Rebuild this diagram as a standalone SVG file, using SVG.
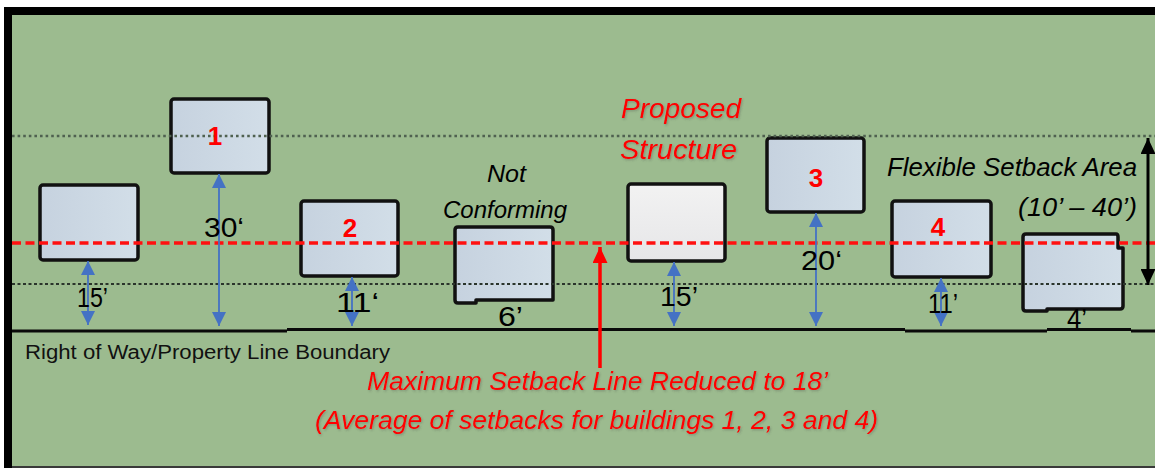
<svg xmlns="http://www.w3.org/2000/svg" width="1155" height="468" viewBox="0 0 1155 468">
<defs>
<linearGradient id="bg" x1="0" y1="0" x2="1" y2="0">
<stop offset="0" stop-color="#C6D2DF"/><stop offset="1" stop-color="#D2DEE8"/>
</linearGradient>
<linearGradient id="pg" x1="0" y1="0" x2="0" y2="1">
<stop offset="0" stop-color="#F2F2F2"/><stop offset="1" stop-color="#E6E6E8"/>
</linearGradient>
<marker id="ab" viewBox="0 0 14 14" markerUnits="userSpaceOnUse" markerWidth="14" markerHeight="14" refX="14" refY="7" orient="auto-start-reverse">
<path d="M0,0 L14,7 L0,14 Z" fill="#4472C4"/>
</marker>
<marker id="ak" viewBox="0 0 16 15" markerUnits="userSpaceOnUse" markerWidth="16" markerHeight="15" refX="16" refY="7.5" orient="auto-start-reverse">
<path d="M0,0 L16,7.5 L0,15 Z" fill="#000"/>
</marker>
<marker id="ar" viewBox="0 0 16 15" markerUnits="userSpaceOnUse" markerWidth="16" markerHeight="15" refX="16" refY="7.5" orient="auto">
<path d="M0,0 L16,7.5 L0,15 Z" fill="#FF0000"/>
</marker>
<filter id="sh" x="-5%" y="-30%" width="110%" height="160%">
<feDropShadow dx="1" dy="1.2" stdDeviation="0.8" flood-color="#444" flood-opacity="0.35"/>
</filter>
</defs>
<style>
.bld{fill:url(#bg);stroke:#111;stroke-width:3.5;stroke-linejoin:round}
.prop{fill:url(#pg);stroke:#111;stroke-width:3.5;stroke-linejoin:round}
.num{font-family:"Liberation Sans",Arial,sans-serif;font-weight:bold;font-size:26px;fill:#FF0000;text-anchor:middle}
.dim{font-family:"Liberation Sans",Arial,sans-serif;font-size:28px;fill:#000}
.lbl{font-family:"Liberation Sans",Arial,sans-serif;font-style:italic;fill:#000}
.red{font-family:"Liberation Sans",Arial,sans-serif;font-style:italic;fill:#FF0000;filter:url(#sh)}
.blue{stroke:#4472C4;stroke-width:1.8;fill:none;marker-start:url(#ab);marker-end:url(#ab)}
</style>
<rect x="0" y="0" width="1155" height="468" fill="#FFFFFF"/>
<rect x="4" y="7" width="1151" height="461" fill="#000"/>
<rect x="12" y="15" width="1143" height="451" fill="#9CBB8F"/>
<rect x="12" y="466" width="1143" height="2" fill="#3A3A3A"/>

<g id="buildings">
<g id="bldg-left"><rect class="bld" x="40" y="185" width="98" height="75" rx="3"/></g>
<g id="bldg-1"><rect class="bld" x="171" y="99" width="98" height="74" rx="3"/></g>
<g id="bldg-2"><rect class="bld" x="301" y="201" width="97" height="75" rx="3"/></g>
<g id="bldg-nc"><path class="bld" d="M458,227 H550 Q553,227 553,230 V300 H476 V303 H458 Q455,303 455,300 V230 Q455,227 458,227 Z"/></g>
<g id="bldg-proposed"><rect class="prop" x="628" y="184" width="97" height="77" rx="3"/></g>
<g id="bldg-3"><rect class="bld" x="767" y="138" width="97" height="74" rx="3"/></g>
<g id="bldg-4"><rect class="bld" x="892" y="201" width="99" height="76" rx="3"/></g>
<g id="bldg-5"><path class="bld" d="M1026,234 H1116 Q1118,234 1118,237 V248 H1123 V306 Q1123,309 1120,309 H1047 V311 H1026 Q1023,311 1023,308 V237 Q1023,234 1026,234 Z"/></g>
</g>

<g id="lines">
<line x1="12" y1="136" x2="1155" y2="136" stroke="#4F6150" stroke-width="2.4" stroke-dasharray="2.6 3"/>
<line x1="12" y1="284" x2="1155" y2="284" stroke="#2A342B" stroke-width="1.8" stroke-dasharray="3 2.5"/>
<line x1="12" y1="243" x2="1155" y2="243" stroke="#FF1010" stroke-width="3.5" stroke-dasharray="9 4.5"/>
<path d="M12,331 H287 M287,329.5 H905 M905,331 H1047 M1047,329.5 H1131 M1131,331 H1155" stroke="#0A0A0A" stroke-width="3" fill="none"/>
</g>

<g id="numbers">
<text class="num" x="215" y="145">1</text>
<text class="num" x="350" y="237">2</text>
<text class="num" x="816" y="187">3</text>
<text class="num" x="938" y="236">4</text>
</g>

<g id="connectors">
<line class="blue" x1="88" y1="261" x2="88" y2="325"/>
<line class="blue" x1="219" y1="174" x2="219" y2="326"/>
<line class="blue" x1="352" y1="277" x2="352" y2="326"/>
<line class="blue" x1="674" y1="262" x2="674" y2="326"/>
<line class="blue" x1="816" y1="213" x2="816" y2="326"/>
<line class="blue" x1="941" y1="278" x2="941" y2="326"/>
<line x1="1148" y1="138" x2="1148" y2="285" stroke="#000" stroke-width="3" marker-start="url(#ak)" marker-end="url(#ak)"/>
<line x1="600" y1="368" x2="600" y2="247" stroke="#FF0000" stroke-width="3.5" marker-end="url(#ar)"/>
</g>

<g id="dimension-labels">
<text class="dim" x="77" y="307" textLength="31" lengthAdjust="spacingAndGlyphs">15’</text>
<text class="dim" x="204" y="237" textLength="40" lengthAdjust="spacingAndGlyphs">30‘</text>
<text class="dim" x="336" y="312" textLength="43" lengthAdjust="spacingAndGlyphs">11‘</text>
<text class="dim" x="498" y="326" font-size="23" textLength="25" lengthAdjust="spacingAndGlyphs">6’</text>
<text class="dim" x="660" y="306" textLength="38" lengthAdjust="spacingAndGlyphs">15’</text>
<text class="dim" x="801" y="270" textLength="41" lengthAdjust="spacingAndGlyphs">20‘</text>
<text class="dim" x="928" y="313" textLength="30" lengthAdjust="spacingAndGlyphs">11’</text>
<text class="dim" x="1067" y="328" font-size="19" textLength="20" lengthAdjust="spacingAndGlyphs">4’</text>
</g>

<g id="labels">
<text x="25" y="359" font-family="Liberation Sans, Arial, sans-serif" font-size="20" fill="#111" textLength="365" lengthAdjust="spacingAndGlyphs">Right of Way/Property Line Boundary</text>
<text class="lbl" x="487" y="182" font-size="23" textLength="39" lengthAdjust="spacingAndGlyphs">Not</text>
<text class="lbl" x="443" y="218" font-size="23" textLength="124" lengthAdjust="spacingAndGlyphs">Conforming</text>
<text class="lbl" x="887" y="176" font-size="25" textLength="250" lengthAdjust="spacingAndGlyphs">Flexible Setback Area</text>
<text class="lbl" x="1018" y="216" font-size="25" textLength="119" lengthAdjust="spacingAndGlyphs">(10’ – 40’)</text>
<text class="red" x="621" y="118" font-size="27" textLength="120" lengthAdjust="spacingAndGlyphs">Proposed</text>
<text class="red" x="620" y="159" font-size="27" textLength="117" lengthAdjust="spacingAndGlyphs">Structure</text>
<text class="red" x="367" y="390" font-size="25" textLength="461" lengthAdjust="spacingAndGlyphs">Maximum Setback Line Reduced to 18’</text>
<text class="red" x="315" y="429" font-size="25" textLength="563" lengthAdjust="spacingAndGlyphs">(Average of setbacks for buildings 1, 2, 3 and 4)</text>
</g>
</svg>
